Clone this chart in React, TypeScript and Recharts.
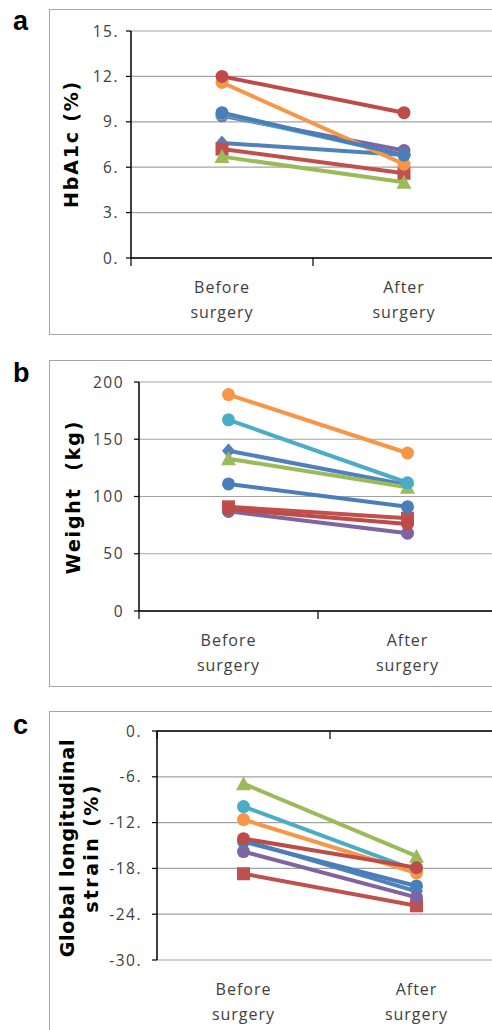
import React from "react";
import { LineChart, Line, XAxis, YAxis, CartesianGrid } from "recharts";

// ---------- data ----------
const categories = ["Before surgery", "After surgery"];
const seriesNames = ["P1", "P2", "P3", "P4", "P5", "P6", "P7", "P8"];

const hba1cBefore = [7.6, 7.2, 6.7, 9.4, 9.5, 11.6, 9.6, 12.0];
const hba1cAfter = [6.8, 5.6, 5.0, 7.1, 6.8, 6.2, 6.8, 9.6];
const hba1cTicks = [0, 3, 6, 9, 12, 15];

const weightBefore = [140, 91, 133, 87, 167, 189, 111, 89];
const weightAfter = [110, 81, 108, 68, 112, 138, 91, 76];
const weightTicks = [0, 50, 100, 150, 200];

const strainBefore = [-14.3, -18.7, -6.9, -15.8, -9.9, -11.6, -14.5, -14.1];
const strainAfter = [-21.0, -22.9, -16.4, -21.8, -18.3, -18.6, -20.3, -17.9];
const strainTicks = [0, -6, -12, -18, -24, -30];

// ---------- styles ----------
const colors = ["#4F81BD", "#C0504D", "#9BBB59", "#8064A2", "#4BACC6", "#F79646", "#4A7EBB", "#BE4B48"];
const shapes = ["diamond", "square", "triangle", "circle", "circle", "circle", "circle", "circle"];

const TICK_FONT = "'Open Sans', sans-serif";
const LABEL_FONT = "'DejaVu Sans', sans-serif";
const TEXT_COLOR = "#404040";

function buildRows(before: number[], after: number[]) {
  return categories.map((c, i) => {
    const row: Record<string, any> = { x: i + 0.5, cat: c };
    const vals = i === 0 ? before : after;
    seriesNames.forEach((n, k) => {
      row[n] = vals[k];
    });
    return row;
  });
}

const Marker = (props: any) => {
  const { cx, cy, shape, color } = props;
  if (cx == null || cy == null) return null;
  const r = 6.5;
  if (shape === "square")
    return <rect x={cx - r} y={cy - r} width={2 * r} height={2 * r} fill={color} />;
  if (shape === "triangle")
    return (
      <polygon
        points={`${cx},${cy - r - 1} ${cx + r + 1},${cy + r} ${cx - r - 1},${cy + r}`}
        fill={color}
      />
    );
  if (shape === "diamond")
    return (
      <polygon
        points={`${cx},${cy - r - 1} ${cx + r},${cy} ${cx},${cy + r + 1} ${cx - r},${cy}`}
        fill={color}
      />
    );
  return <circle cx={cx} cy={cy} r={r} fill={color} />;
};

// bottom axis tick: integer ticks are tick marks, half ticks are category labels
const makeBottomTick = (drawMarks: boolean) => (props: any) => {
  const { x, y, payload } = props;
  const v = payload.value as number;
  const axisY = y - 8;
  if (Number.isInteger(v)) {
    if (!drawMarks) return <g />;
    return <line x1={x} x2={x} y1={axisY} y2={axisY + 8} stroke="#000" strokeWidth={1.2} />;
  }
  const label = categories[Math.floor(v)] || "";
  const parts = label.split(" ");
  return (
    <g>
      {parts.map((p, i) => (
        <text
          key={i}
          x={x}
          y={axisY + 35 + i * 25}
          textAnchor="middle"
          fill={TEXT_COLOR}
          fontFamily={TICK_FONT}
          fontSize={16}
          letterSpacing={1}
        >
          {p}
        </text>
      ))}
    </g>
  );
};

const TopTick = (props: any) => {
  const { x, y } = props;
  return <line x1={x} x2={x} y1={y} y2={y + 8} stroke="#000" strokeWidth={1.2} />;
};

interface PanelProps {
  rows: any[];
  domain: [number, number];
  ticks: number[];
  fmt: (v: number) => string;
  width: number;
  height: number;
  margin: { top: number; right: number; bottom: number; left: number };
  yAxisWidth: number;
  tickMargin: number;
  topAxis?: boolean;
}

const Panel = ({ rows, domain, ticks, fmt, width, height, margin, yAxisWidth, tickMargin, topAxis }: PanelProps) => (
  <LineChart width={width} height={height} data={rows} margin={margin}>
    <CartesianGrid horizontal vertical={false} stroke="#a3a3a3" strokeWidth={1.2} />
    {topAxis ? (
      <XAxis
        xAxisId="top"
        orientation="top"
        type="number"
        dataKey="x"
        domain={[0, 2]}
        allowDataOverflow
        ticks={[0, 1, 2]}
        tickSize={0}
        tickMargin={0}
        tickLine={false}
        tick={<TopTick />}
        height={1}
        axisLine={{ stroke: "#000", strokeWidth: 1.5 }}
      />
    ) : null}
    <XAxis
      xAxisId="main"
      type="number"
      dataKey="x"
      domain={[0, 2]}
      allowDataOverflow
      ticks={[0, 0.5, 1, 1.5, 2]}
      interval={0}
      tickSize={8}
      tickMargin={0}
      tickLine={false}
      tick={makeBottomTick(!topAxis)}
      height={60}
      axisLine={topAxis ? false : { stroke: "#000", strokeWidth: 1.5 }}
    />
    <YAxis
      type="number"
      domain={domain}
      ticks={ticks}
      interval={0}
      width={yAxisWidth}
      tickFormatter={fmt}
      tickSize={5}
      tickMargin={tickMargin}
      axisLine={{ stroke: "#000", strokeWidth: 1.5 }}
      tickLine={{ stroke: "#000", strokeWidth: 1.2 }}
      tick={{ fill: TEXT_COLOR, fontFamily: TICK_FONT, fontSize: 15.5, letterSpacing: 1.5 }}
    />
    {seriesNames.map((n, k) => (
      <Line
        key={n}
        xAxisId="main"
        type="linear"
        dataKey={n}
        stroke={colors[k]}
        strokeWidth={4}
        isAnimationActive={false}
        dot={(p: any) => <Marker key={`${n}-${p.index}`} cx={p.cx} cy={p.cy} shape={shapes[k]} color={colors[k]} />}
        activeDot={false}
      />
    ))}
  </LineChart>
);

const boxStyle = (top: number, height: number): React.CSSProperties => ({
  position: "absolute",
  left: 49,
  top,
  width: 480,
  height,
  border: "1.5px solid #a6a6a6",
  boxSizing: "border-box",
});

const letterStyle = (top: number): React.CSSProperties => ({
  position: "absolute",
  left: 13,
  top,
  fontFamily: "'Liberation Sans', Arial, sans-serif",
  fontWeight: "bold",
  fontSize: 27,
  lineHeight: "27px",
  color: "#000",
});

const yLabelStyle = (cx: number, cy: number, spacing: number): React.CSSProperties => ({
  position: "absolute",
  left: cx,
  top: cy,
  transform: "translate(-50%, -50%) rotate(-90deg)",
  whiteSpace: "nowrap",
  fontFamily: LABEL_FONT,
  fontWeight: "bold",
  fontSize: 19,
  lineHeight: "22px",
  letterSpacing: spacing,
  color: "#000",
});

export default function App() {
  const rowsA = buildRows(hba1cBefore, hba1cAfter);
  const rowsB = buildRows(weightBefore, weightAfter);
  const rowsC = buildRows(strainBefore, strainAfter);
  return (
    <div
      style={{
        position: "absolute",
        left: 0,
        top: 0,
        width: 492,
        height: 1030,
        overflow: "hidden",
        background: "#fff",
      }}
    >
      <div style={boxStyle(9, 326)} />
      <div style={boxStyle(360, 327)} />
      <div style={boxStyle(711, 340)} />

      <div style={letterStyle(8)}>a</div>
      <div style={letterStyle(360)}>b</div>
      <div style={letterStyle(712)}>c</div>

      <div style={{ position: "absolute", left: 0, top: 0 }}>
        <Panel
          rows={rowsA}
          domain={[0, 15]}
          ticks={hba1cTicks}
          fmt={(v) => `${v}.`}
          width={520}
          height={340}
          margin={{ top: 31, right: 25, bottom: 22, left: 0 }}
          yAxisWidth={131}
          tickMargin={7}
        />
      </div>
      <div style={{ position: "absolute", left: 0, top: 345 }}>
        <Panel
          rows={rowsB}
          domain={[0, 200]}
          ticks={weightTicks}
          fmt={(v) => `${v}`}
          width={520}
          height={335}
          margin={{ top: 37, right: 23, bottom: 9, left: 0 }}
          yAxisWidth={139}
          tickMargin={10}
        />
      </div>
      <div style={{ position: "absolute", left: 0, top: 690 }}>
        <Panel
          rows={rowsC}
          domain={[-30, 0]}
          ticks={strainTicks}
          fmt={(v) => `${v}.`}
          width={520}
          height={340}
          margin={{ top: 40, right: 17, bottom: 10, left: 0 }}
          yAxisWidth={157}
          tickMargin={10}
          topAxis
        />
      </div>

      <div style={yLabelStyle(71, 144, 1.8)}>HbA1c (%)</div>
      <div style={yLabelStyle(73, 497, 1.8)}>Weight&nbsp;&nbsp;(kg)</div>
      <div
        style={{
          ...yLabelStyle(79, 848, 0.8),
          textAlign: "center",
          lineHeight: "24px",
        }}
      >
        Global longitudinal
        <br />
        <span style={{ letterSpacing: 2.4 }}>strain (%)</span>
      </div>
    </div>
  );
}
